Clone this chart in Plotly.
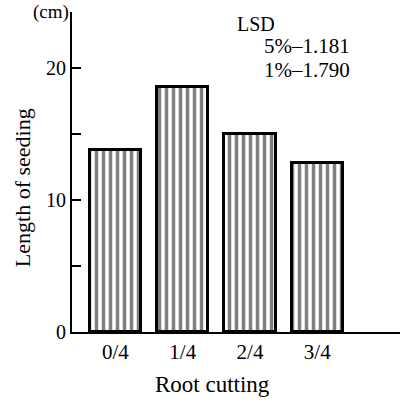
import plotly.graph_objects as go

categories = ["0/4", "1/4", "2/4", "3/4"]
lengths = [13.8, 18.5, 15.0, 12.8]
y_tickvals = [0, 5, 10, 15, 20]
y_ticktext = ["0", "", "10", "", "20"]
lsd_lines = ["LSD", "5%\u20131.181", "1%\u20131.790"]

font = "'Liberation Serif', 'Times New Roman', serif"

fig = go.Figure()
fig.add_trace(go.Bar(
    x=list(range(len(categories))), y=lengths, width=0.76,
    marker=dict(color="white", line=dict(color="black", width=3),
                pattern=dict(shape="|", size=7, solidity=0.5,
                             fgcolor="black", bgcolor="white", fillmode="overlay")),
))

fig.update_layout(
    width=401, height=404,
    margin=dict(l=72, r=1, t=12, b=72),
    paper_bgcolor="white", plot_bgcolor="white",
    showlegend=False,
    font=dict(family=font, size=20, color="black"),
    bargap=0,
)
fig.update_xaxes(
    range=[-0.646, 4.23], tickvals=list(range(len(categories))), ticktext=categories,
    showline=True, linecolor="black", linewidth=2, showgrid=False, zeroline=False,
    ticks="", tickfont=dict(size=21),
)
fig.update_yaxes(
    range=[0, 24.2], tickvals=y_tickvals, ticktext=y_ticktext,
    showline=True, linecolor="black", linewidth=2, showgrid=False, zeroline=False,
    ticks="inside", ticklen=9, tickwidth=2, tickcolor="black", tickfont=dict(size=20),
)
# axis titles
fig.add_annotation(text="Root cutting", xref="paper", yref="paper", x=0.427, y=-0.163,
                   xanchor="center", yanchor="middle", showarrow=False, font=dict(size=23))
fig.add_annotation(text="Length of seeding", xref="paper", yref="paper", x=-0.152, y=0.450,
                   xanchor="center", yanchor="middle", textangle=-90, showarrow=False,
                   font=dict(size=22))
fig.add_annotation(text="(cm)", xref="paper", yref="paper", x=-0.003, y=1.0,
                   xanchor="right", yanchor="middle", showarrow=False, font=dict(size=19))
fig.add_annotation(text=lsd_lines[0], xref="x", yref="y", x=1.776, y=23.3,
                   xanchor="left", yanchor="middle", showarrow=False, font=dict(size=20))
fig.add_annotation(text=lsd_lines[1], xref="x", yref="y", x=2.177, y=21.6,
                   xanchor="left", yanchor="middle", showarrow=False, font=dict(size=21))
fig.add_annotation(text=lsd_lines[2], xref="x", yref="y", x=2.177, y=19.8,
                   xanchor="left", yanchor="middle", showarrow=False, font=dict(size=21))

fig.write_html("out.html")
